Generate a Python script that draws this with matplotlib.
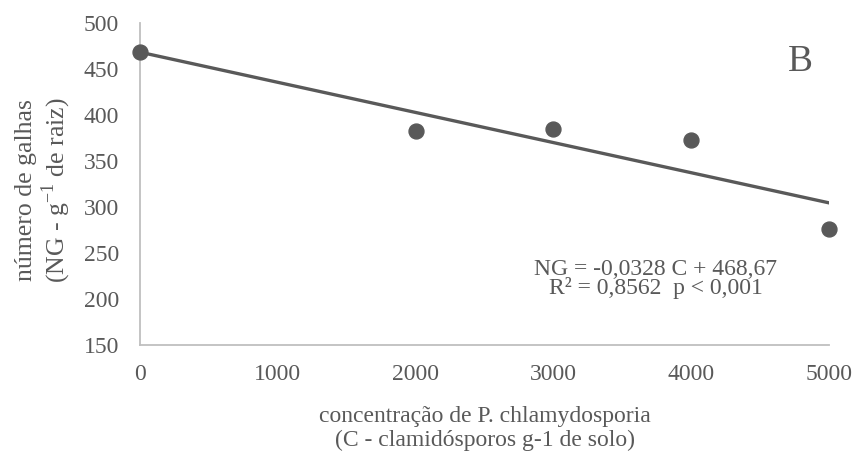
import numpy as np
import matplotlib.pyplot as plt

plt.rcParams['font.family'] = ['Liberation Serif', 'DejaVu Serif']

# concentração de clamidósporos e número de galhas
conc = [0, 2000, 3000, 4000, 5000]
galhas = [469, 383, 385, 373, 276]

# reta ajustada
slope = -0.0328
intercept = 468.67

cinza = '#595959'
eixo = '#BFBFBF'

fig = plt.figure(figsize=(8.56, 4.59), dpi=100)
ax = fig.add_axes([0.1636, 0.2484, 0.8050, 0.7006])

xs = np.array([0, 5000])
ax.plot(xs, intercept + slope * xs, color=cinza, lw=2.4, zorder=2)
ax.scatter(conc, galhas, s=115, color=cinza, zorder=3, clip_on=False)

ax.set_xlim(0, 5000)
ax.set_ylim(150, 500)
ax.set_xticks(np.arange(0, 5001, 1000))
ax.set_yticks(np.arange(150, 501, 50))

for s in ['top', 'right']:
    ax.spines[s].set_visible(False)
for s in ['left', 'bottom']:
    ax.spines[s].set_color(eixo)
    ax.spines[s].set_linewidth(1.3)
ax.tick_params(length=0, labelsize=17, colors=cinza)
ax.tick_params(axis='x', pad=14)
ax.tick_params(axis='y', pad=15)

ax.set_ylabel('número de galhas\n(NG - g$^{\\mathregular{-1}}$ de raiz)',
              fontsize=18.5, color=cinza, linespacing=1.12, va='center')
ax.yaxis.set_label_coords(-0.139, 0.482)
ax.set_xlabel('concentração de P. chlamydosporia\n(C - clamidósporos g-1 de solo)',
              fontsize=17, color=cinza, linespacing=1.17, va='center')
ax.xaxis.set_label_coords(0.5, -0.26)

ax.text(0.958, 0.881, 'B', transform=ax.transAxes, fontsize=27,
        color=cinza, ha='center', va='center')
ax.text(0.748, 0.206, 'NG = -0,0328 C + 468,67\nR² = 0,8562  p < 0,001',
        transform=ax.transAxes, fontsize=17, color=cinza,
        ha='center', va='center', linespacing=0.85)

fig.savefig('out.png', dpi=100)
